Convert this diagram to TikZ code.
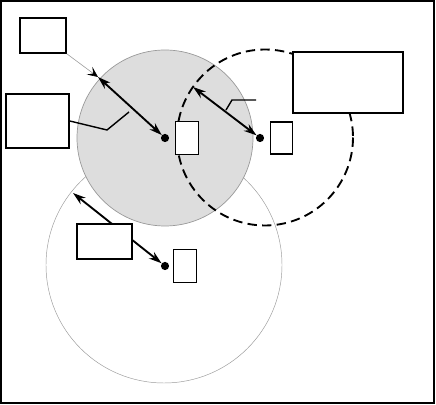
\documentclass[tikz,border=0pt]{standalone}
\usepackage{tikz}
\usetikzlibrary{positioning,calc,arrows.meta}
\definecolor{DiscGray}{HTML}{DDDDDD}
\definecolor{RimGray}{HTML}{9A9A9A}

\tikzset{
  labelbox/.style={draw, line width=1.3pt, fill=white, inner sep=0pt},
  centre/.style={circle, fill=black, inner sep=0pt, minimum size=7pt},
  radiusarrow/.style={line width=1.6pt, {Stealth[length=11pt,width=7pt]}-{Stealth[length=11pt,width=7pt]}},
  leader/.style={line width=1.2pt},
}

\begin{document}
\begin{tikzpicture}[x=0.03cm, y=-0.03cm]
  \useasboundingbox (0,0) rectangle (436,405);
  \draw[line width=1.8pt] (1,1) rectangle (434,403);

  % coverage circles
  \draw[RimGray, line width=0.4pt] (164,265) circle (118);
  \filldraw[fill=DiscGray, draw=RimGray, line width=0.6pt] (165,138) circle (88);
  \draw[line width=1.6pt, dash pattern=on 8pt off 4.5pt] (265,137.5) circle (88);

  \node[centre] (gdot) at (165,138) {};
  \node[centre] (ddot) at (260,138) {};
  \node[centre] (ldot) at (165,266) {};

  \coordinate (gtip) at (98,77);
  \coordinate (dtip) at (193,87);
  \coordinate (ltip) at (73,193);

  % radii
  \draw[radiusarrow] (gtip) -- (gdot);
  \draw[radiusarrow] (dtip) -- (ddot);
  \draw[radiusarrow] (ltip) -- (ldot);

  \node[labelbox, minimum width=1.38cm, minimum height=1.05cm] (edgebox) at (43,35.5) {};
  \node[labelbox, minimum width=1.89cm, minimum height=1.62cm] (radbox) at (37.5,121) {};
  \node[labelbox, minimum width=3.3cm, minimum height=1.83cm] (dashbox) at (348,82.5) {};
  \node[labelbox, minimum width=1.65cm, minimum height=1.05cm] (lowbox) at (104.5,241.5) {};

  \node[labelbox, minimum width=0.69cm, minimum height=0.99cm, right=0.16cm of gdot] (gbox) {};
  \node[labelbox, minimum width=0.66cm, minimum height=0.96cm, right=0.16cm of ddot] (dbox) {};
  \node[labelbox, minimum width=0.69cm, minimum height=0.99cm, right=0.1cm of ldot] (lbox) {};

  % leaders
  \draw[RimGray, line width=0.5pt, -{Stealth[length=9pt,width=8pt,inset=4pt,color=black]}]
    (edgebox.south east) -- (gtip);
  \coordinate (rkink) at (107,130);
  \coordinate (rfoot) at (129,112);
  \draw[leader] (radbox.east) -- (rkink) -- (rfoot);
  \coordinate (dfoot) at (226,110);
  \coordinate (dkink) at (232,100);
  \coordinate (dend) at (256,100);
  \draw[leader] (dfoot) -- (dkink) -- (dend);
\end{tikzpicture}
\end{document}
